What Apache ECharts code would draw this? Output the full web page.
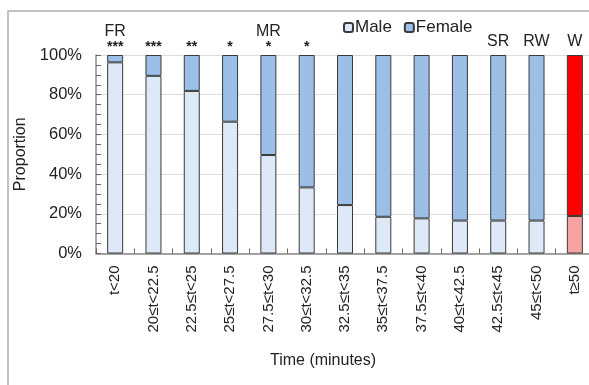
<!DOCTYPE html>
<html>
<head>
<meta charset="utf-8">
<script src="https://cdn.jsdelivr.net/npm/echarts@6/dist/echarts.min.js"></script>
<style>
  html, body { margin: 0; padding: 0; background: #fff; }
  #chart { width: 589px; height: 385px; }
</style>
</head>
<body>
<div id="chart"></div>
<script>
// Finishing-time bins
const categories = ['t<20', '20≤t<22.5', '22.5≤t<25', '25≤t<27.5', '27.5≤t<30', '30≤t<32.5',
  '32.5≤t<35', '35≤t<37.5', '37.5≤t<40', '40≤t<42.5', '42.5≤t<45', '45≤t<50', 't≥50'];
// Share of male runners in each bin (%)
const malePct = [96.3, 89.5, 81.9, 66.4, 49.6, 33.3, 24.4, 18.5, 17.7, 16.6, 16.6, 16.6, 18.9];
// Significance stars and group markers drawn over the bars
const stars = ['***', '***', '**', '*', '*', '*', '', '', '', '', '', '', ''];
const groups = ['FR', '', '', '', 'MR', '', '', '', '', '', 'SR', 'RW', 'W'];
const yTicks = [0, 20, 40, 60, 80, 100];

const femalePct = malePct.map(v => 100 - v);
const HL = categories.length - 1; // highlighted last bin

const FONT = 'Liberation Sans, Arial, sans-serif';
const chart = echarts.init(document.getElementById('chart'), null, { renderer: 'canvas' });

const maleData = malePct.map((v, i) => i === HL
  ? { value: v, itemStyle: { color: '#f7a3a3' } } : v);
const femaleData = femalePct.map((v, i) => i === HL
  ? { value: v, itemStyle: { color: '#ff0000' } } : v);

chart.setOption({
  animation: false,
  textStyle: { fontFamily: FONT },
  graphic: [{
    type: 'polyline',
    shape: { points: [[8, 390], [8, 11], [600, 11]] },
    style: { stroke: '#b0b0b0', lineWidth: 1.5, fill: null }
  }, {
    type: 'text', left: 270, top: 353,
    style: { text: 'Time (minutes)', font: '16px ' + FONT, fill: '#222' }
  }],
  legend: {
    left: 338, top: 14, itemWidth: 9, itemHeight: 9, itemGap: 12,
    textStyle: { fontSize: 17, color: '#222', padding: [0, 0, 0, -3] },
    data: ['Male', 'Female']
  },
  grid: { left: 96, top: 55, width: 498, height: 198.5, outerBoundsMode: 'none', containLabel: false },
  xAxis: {
    type: 'category', data: categories,
    axisLine: { lineStyle: { color: '#888', width: 1.5 } },
    axisTick: { show: true, inside: true, length: 5, lineStyle: { color: '#666', width: 1 } },
    axisLabel: { rotate: 90, margin: 12, fontSize: 15, color: '#222', interval: 0 }
  },
  yAxis: [{
    type: 'value', min: 0, max: 100, interval: 20,
    name: 'Proportion', nameLocation: 'middle', nameGap: 57,
    nameTextStyle: { fontSize: 16, color: '#222' },
    axisLine: { show: true, lineStyle: { color: '#888', width: 1.5 } },
    axisTick: { show: false },
    axisLabel: {
      fontSize: 16.5, color: '#222', margin: 14,
      formatter: v => yTicks.includes(v) ? v + '%' : ''
    },
    splitLine: { lineStyle: { color: '#dcdcdc', width: 1 } }
  }, {
    // fine 5% tick marks along the left edge
    type: 'value', min: 0, max: 100, interval: 5, position: 'left', offset: 0,
    axisLine: { show: false },
    axisTick: { show: true, inside: true, length: 5, lineStyle: { color: '#666', width: 1 } },
    axisLabel: { show: false },
    splitLine: { show: false }
  }],
  series: [{
    name: 'Male', type: 'bar', stack: 'p', barWidth: 16,
    itemStyle: { color: '#dde9f6', borderColor: '#3a3a3a', borderWidth: 1 },
    data: maleData
  }, {
    name: 'Female', type: 'bar', stack: 'p', barWidth: 16,
    itemStyle: { color: '#9bbfe6', borderColor: '#3a3a3a', borderWidth: 1 },
    data: femaleData,
    label: {
      show: true, position: 'top', distance: 3, color: '#222',
      formatter: p => {
        const s = stars[p.dataIndex], g = groups[p.dataIndex];
        if (g && s) return '{g|' + g + '}\n{s|' + s + '}';
        if (g) return '{g|' + g + '}';
        if (s) return '{s|' + s + '}';
        return '';
      },
      rich: {
        g: { fontSize: 16, color: '#222', lineHeight: 20 },
        s: { fontSize: 14, color: '#222', lineHeight: 10, fontWeight: 'bold' }
      }
    }
  }]
});
</script>
</body>
</html>
